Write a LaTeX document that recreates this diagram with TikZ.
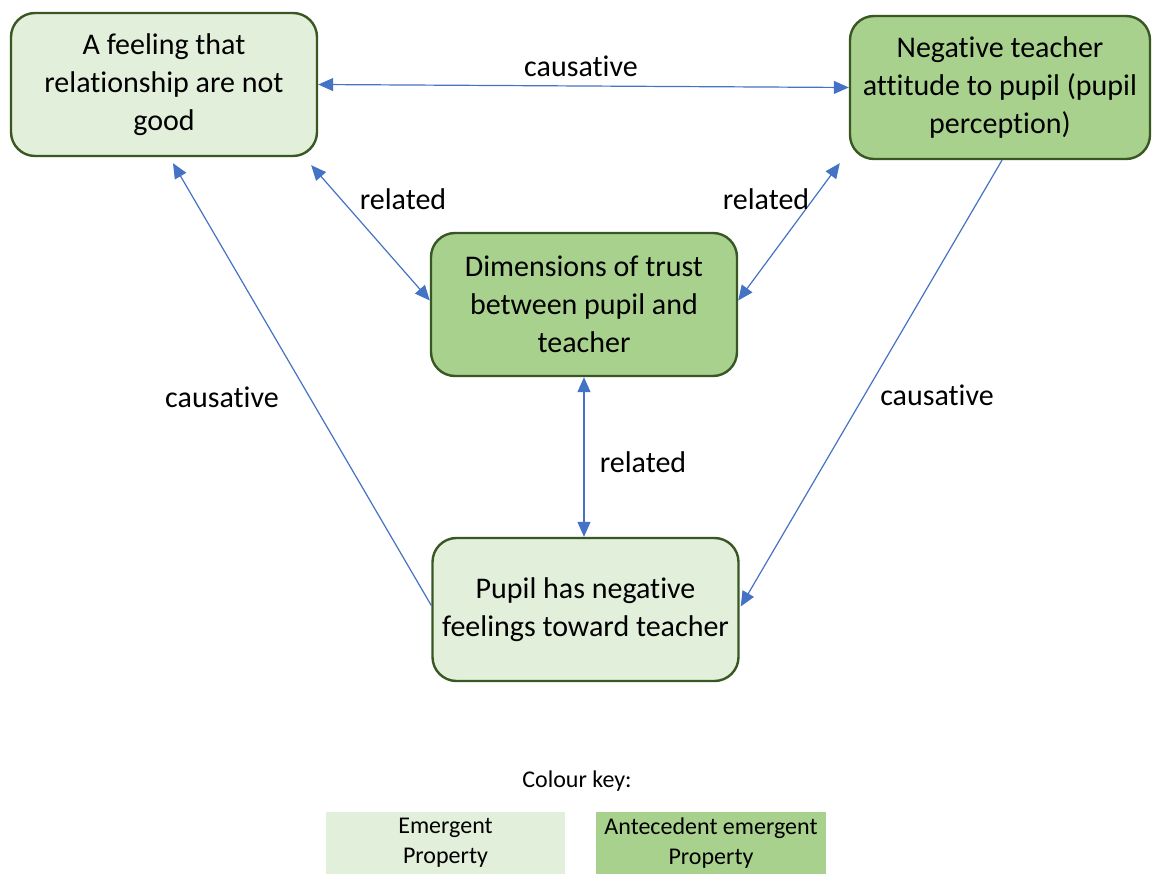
\documentclass[tikz,border=0pt]{standalone}
\usepackage{fontspec}
\setmainfont{Carlito}[Ligatures=NoCommon]
\usetikzlibrary{calc,arrows.meta}
\definecolor{lightgreen}{HTML}{E2EFDA}
\definecolor{midgreen}{HTML}{A9D18E}
\definecolor{edgegreen}{HTML}{385723}
\definecolor{linkblue}{HTML}{4472C4}
\begin{document}
\begin{tikzpicture}[x=1pt,y=-1pt,
  box/.style={draw=edgegreen,line width=2.4pt,rounded corners=24pt,
    minimum width=306pt,minimum height=143pt,align=center,
    font=\fontsize{30}{38}\selectfont},
  emergent/.style={box,fill=lightgreen},
  antecedent/.style={box,fill=midgreen},
  link/.style={draw=linkblue,line width=1.2pt,
    {Triangle[length=15pt,width=13pt]}-{Triangle[length=15pt,width=13pt]}},
  onelink/.style={draw=linkblue,line width=1.2pt,-{Triangle[length=15pt,width=13pt]}},
  lbl/.style={font=\fontsize{30}{36}\selectfont,inner sep=0pt},
  keybox/.style={minimum width=239pt,minimum height=62pt,align=center,
    inner sep=0pt,font=\fontsize{24}{30}\selectfont}]
\useasboundingbox (0,0) rectangle (1152,874);

% main boxes
\node[emergent] (A) at (164,84.5) {A feeling that\\relationship are not\\good};
\node[antecedent,minimum width=300pt] (N) at (1000,87.5) {Negative teacher\\attitude to pupil (pupil\\perception)};
\node[antecedent] (D) at (584,304.5) {Dimensions of trust\\between pupil and\\teacher};
\node[emergent] (P) at (585.5,609.5) {Pupil has negative\\feelings toward teacher};

% connectors
\draw[link] (A.east) -- (N.west);
\draw[link] ($(A.south east)+(-7,8)$) -- ($(D.west)+(0,-4)$);
\draw[link] ($(N.south west)+(-9,3)$) -- ($(D.east)+(0,-4)$);
\draw[link] (D.south) -- (D.south |- P.north);
\draw[onelink] ($(P.west)+(0,-4)$) -- ($(A.south)+(9,6)$);
\draw[onelink] ($(N.south)+(2,0)$) -- ($(P.east)+(1,-3)$);

% connector labels
\node[lbl] (l1) at (581,66) {causative};
\node[lbl] (l2) at (403,199) {related};
\node[lbl] (l3) at (766,199) {related};
\node[lbl] (l4) at (643,462) {related};
\node[lbl] (l5) at (222,397) {causative};
\node[lbl] (l6) at (937,395) {causative};

% colour key
\node[font=\fontsize{24}{28}\selectfont,inner sep=0pt] (key) at (577,781) {Colour key:};
\node[keybox,fill=lightgreen] (k1) at (445.5,843) {Emergent\\Property};
\node[keybox,fill=midgreen,minimum width=230pt] (k2) at (711,843) {Antecedent emergent\\Property};
\end{tikzpicture}
\end{document}
